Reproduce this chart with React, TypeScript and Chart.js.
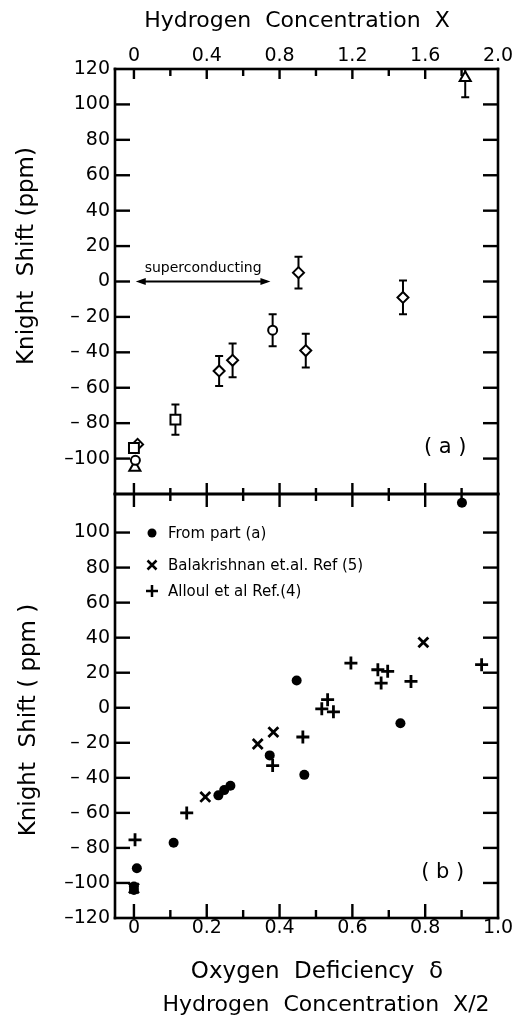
import React, { useEffect, useRef } from "react";
import { Chart, registerables } from "chart.js";
Chart.register(...registerables);

const FONT = '"DejaVu Sans", "Liberation Sans", sans-serif';

// ---------- Panel (a): x = Hydrogen concentration X, y = Knight shift (ppm), err = half error bar
const diamondX = [0.02, 0.468, 0.542, 0.904, 0.944, 1.478];
const diamondY = [-92, -50.5, -44.5, 5, -39, -9];
const diamondErr = [0, 8.5, 9.5, 9, 9.5, 9.5];
const squareX = [0.0, 0.228];
const squareY = [-94, -78];
const squareErr = [0, 8.5];
const circleX = [0.008, 0.762];
const circleY = [-101, -27.5];
const circleErr = [0, 9];
const triangleX = [0.005, 1.82];
const triangleY = [-105, 115];
const triangleErr = [0, 11];
const superconductingRange = [0.01, 0.75];

// ---------- Panel (b): x = oxygen deficiency δ (= X/2)
const partAX = [0.901, 0.447, 0.732, 0.373, 0.468, 0.265, 0.248, 0.232, 0.109, 0.008, 0.0, 0.0];
const partAY = [117, 15.6, -8.8, -27.2, -38.3, -44.5, -47, -50, -77, -91.6, -102, -104];
const balaX = [0.795, 0.383, 0.34, 0.196, 0.0];
const balaY = [37.3, -13.9, -20.7, -50.9, -103];
const allX = [0.596, 0.955, 0.67, 0.697, 0.679, 0.761, 0.464, 0.381, 0.145, 0.532, 0.516, 0.548, 0.003];
const allY = [25.5, 24.6, 21.7, 20.8, 14.1, 15, -16.7, -33, -60, 4.6, -0.6, -2.3, -75.4];

// ---------- ticks
const topXTicks = [0, 0.2, 0.4, 0.6, 0.8, 1.0, 1.2, 1.4, 1.6, 1.8, 2.0];
const topXLabels = ["0", "", "0.4", "", "0.8", "", "1.2", "", "1.6", "", "2.0"];
const botXTicks = [0, 0.1, 0.2, 0.3, 0.4, 0.5, 0.6, 0.7, 0.8, 0.9, 1.0];
const botXLabels = ["0", "", "0.2", "", "0.4", "", "0.6", "", "0.8", "", "1.0"];
const yTicks = [-120, -100, -80, -60, -40, -20, 0, 20, 40, 60, 80, 100, 120];
const yLabelsA = ["", "–100", "– 80", "– 60", "– 40", "– 20", "0", "20", "40", "60", "80", "100", "120"];
const yLabelsB = ["–120", "–100", "– 80", "– 60", "– 40", "– 20", "0", "20", "40", "60", "80", "100", ""];

const X_MIN_A = -0.104, X_MAX_A = 2.0;
const X_MIN_B = -0.052, X_MAX_B = 1.0;
const Y_MIN_A = -120, Y_MAX_A = 120;
const Y_MIN_B = -120, Y_MAX_B = 122;

const tickFont = { family: FONT, size: 19, lineHeight: 1 };

function labelCb(ticks: number[], labels: string[]) {
  return (v: any) => {
    const i = ticks.findIndex((t) => Math.abs(t - Number(v)) < 1e-6);
    return i >= 0 ? labels[i] : "";
  };
}

function mkX(pos: string, min: number, max: number, ticks: number[], labels: string[], h: number, pad: number) {
  return {
    type: "linear",
    position: pos,
    min,
    max,
    afterBuildTicks: (s: any) => {
      s.ticks = ticks.map((v) => ({ value: v }));
    },
    afterFit: (s: any) => {
      s.height = h;
      s.paddingLeft = 0;
      s.paddingRight = 0;
    },
    grid: { display: false, drawTicks: false },
    border: { display: false },
    ticks: { autoSkip: false, maxRotation: 0, minRotation: 0, color: "#000", padding: pad, font: tickFont, callback: labelCb(ticks, labels) },
  };
}

function mkY(min: number, max: number, labels: string[]) {
  return {
    type: "linear",
    position: "left",
    min,
    max,
    afterBuildTicks: (s: any) => {
      s.ticks = yTicks.map((v) => ({ value: v }));
    },
    afterFit: (s: any) => {
      s.width = 115;
      s.paddingTop = 0;
      s.paddingBottom = 0;
    },
    grid: { display: false, drawTicks: false },
    border: { display: false },
    ticks: { autoSkip: false, color: "#000", padding: 5, font: tickFont, callback: labelCb(yTicks, labels) },
  };
}

function pts(xs: number[], ys: number[]) {
  return xs.map((x, i) => ({ x, y: ys[i] }));
}

type Seg = [number, number, number, number];

function strokeSegs(ctx: CanvasRenderingContext2D, segs: Seg[], w: number) {
  ctx.save();
  ctx.strokeStyle = "#000000";
  ctx.lineWidth = w;
  ctx.lineCap = "butt";
  ctx.setLineDash([]);
  ctx.beginPath();
  for (const [x1, y1, x2, y2] of segs) {
    ctx.moveTo(x1, y1);
    ctx.lineTo(x2, y2);
  }
  ctx.stroke();
  ctx.restore();
}

type R = [number, number, number, number];

function fillRects(ctx: CanvasRenderingContext2D, rs: R[]) {
  ctx.save();
  ctx.fillStyle = "#000000";
  for (const [x, y, w, h] of rs) ctx.fillRect(x, y, w, h);
  ctx.restore();
}

function sideTickRects(chart: any): R[] {
  const a = chart.chartArea;
  const y = chart.scales.y;
  const rs: R[] = [];
  const t = 2.4;
  for (const v of yTicks) {
    if (v <= -120 || v >= 120) continue;
    const py = y.getPixelForValue(v);
    rs.push([a.left, py - t / 2, 15, t]);
    rs.push([a.right - 15, py - t / 2, 15, t]);
  }
  return rs;
}

function hTickRects(chart: any, ticks: number[], edgeY: number, dir: number, majorLen: number, minorLen: number): R[] {
  const a = chart.chartArea;
  const sx = chart.scales.x;
  const rs: R[] = [];
  const t = 2.4;
  ticks.forEach((v, i) => {
    const px = sx.getPixelForValue(v);
    if (px >= a.right - 1) return;
    const len = i % 2 === 0 ? majorLen : minorLen;
    rs.push([px - t / 2, dir > 0 ? edgeY : edgeY - len, t, len]);
  });
  return rs;
}

function frame(chart: any) {
  const a = chart.chartArea;
  const t = 2.6;
  fillRects(chart.ctx, [
    [a.left - t / 2, a.top - t / 2, a.right - a.left + t, t],
    [a.left - t / 2, a.bottom - t / 2, a.right - a.left + t, t],
    [a.left - t / 2, a.top - t / 2, t, a.bottom - a.top + t],
    [a.right - t / 2, a.top - t / 2, t, a.bottom - a.top + t],
  ]);
}

function drawText(ctx: CanvasRenderingContext2D, text: string, x: number, y: number, size: number, rot = 0, align: CanvasTextAlign = "center") {
  ctx.save();
  ctx.fillStyle = "#000";
  ctx.font = `${size}px ${FONT}`;
  ctx.textAlign = align;
  ctx.textBaseline = "middle";
  ctx.translate(x, y);
  if (rot) ctx.rotate(rot);
  ctx.fillText(text, 0, 0);
  ctx.restore();
}

const errSeries: [number[], number[], number[]][] = [
  [diamondX, diamondY, diamondErr],
  [squareX, squareY, squareErr],
  [circleX, circleY, circleErr],
  [triangleX, triangleY, triangleErr],
];

const decorA = {
  id: "decorA",
  beforeDatasetsDraw(chart: any) {
    const { ctx, chartArea: a, scales } = chart;
    const { x, y } = scales;
    ctx.save();
    ctx.beginPath();
    ctx.rect(a.left, a.top, a.right - a.left, a.bottom - a.top);
    ctx.clip();
    const segs: Seg[] = [];
    for (const [xs, ys, es] of errSeries) {
      xs.forEach((xv, i) => {
        const e = es[i];
        if (!e) return;
        const px = x.getPixelForValue(xv);
        const p1 = y.getPixelForValue(ys[i] + e);
        const p2 = y.getPixelForValue(ys[i] - e);
        segs.push([px, p1, px, p2]);
        segs.push([px - 4, p1, px + 4, p1]);
        segs.push([px - 4, p2, px + 4, p2]);
      });
    }
    strokeSegs(ctx, segs, 2);
    const x1 = x.getPixelForValue(superconductingRange[0]);
    const x2 = x.getPixelForValue(superconductingRange[1]);
    const py = y.getPixelForValue(0);
    strokeSegs(ctx, [[x1 + 4, py, x2 - 4, py]], 2);
    ctx.fillStyle = "#000";
    ctx.beginPath();
    ctx.moveTo(x1, py);
    ctx.lineTo(x1 + 10, py - 3.5);
    ctx.lineTo(x1 + 10, py + 3.5);
    ctx.closePath();
    ctx.fill();
    ctx.beginPath();
    ctx.moveTo(x2, py);
    ctx.lineTo(x2 - 10, py - 3.5);
    ctx.lineTo(x2 - 10, py + 3.5);
    ctx.closePath();
    ctx.fill();
    ctx.restore();
    drawText(ctx, "superconducting", (x1 + x2) / 2, py - 13, 14);
  },
  afterDraw(chart: any) {
    const { ctx, chartArea: a, scales } = chart;
    fillRects(ctx, [
      ...sideTickRects(chart),
      ...hTickRects(chart, topXTicks, a.top, 1, 10, 7),
      ...hTickRects(chart, topXTicks, a.bottom, -1, 11, 6),
    ]);
    frame(chart);
    drawText(ctx, "( a )", scales.x.getPixelForValue(1.71), scales.y.getPixelForValue(-94), 21);
    drawText(ctx, "Hydrogen  Concentration  X", 297, 21, 22);
    drawText(ctx, "Knight  Shift (ppm)", 27, 256, 23, -Math.PI / 2);
  },
};

function legendMarker(ctx: CanvasRenderingContext2D, kind: string, x: number, y: number) {
  if (kind === "circle") {
    ctx.save();
    ctx.fillStyle = "#000";
    ctx.beginPath();
    ctx.arc(x, y, 4.5, 0, Math.PI * 2);
    ctx.fill();
    ctx.restore();
  } else if (kind === "cross") {
    strokeSegs(ctx, [[x - 4.5, y - 4.5, x + 4.5, y + 4.5], [x - 4.5, y + 4.5, x + 4.5, y - 4.5]], 2.5);
  } else {
    strokeSegs(ctx, [[x - 6, y, x + 6, y], [x, y - 6, x, y + 6]], 2.5);
  }
}

const decorB = {
  id: "decorB",
  afterDraw(chart: any) {
    const { ctx, chartArea: a, scales } = chart;
    fillRects(ctx, [
      ...sideTickRects(chart),
      ...hTickRects(chart, botXTicks, a.top, 1, 13, 7),
      ...hTickRects(chart, botXTicks, a.bottom, -1, 14, 8),
    ]);
    frame(chart);
    const lx = a.left + 37;
    const items: [string, string, number][] = [
      ["circle", "From part (a)", 39],
      ["cross", "Balakrishnan et.al. Ref (5)", 71],
      ["plus", "Alloul et al Ref.(4)", 97],
    ];
    for (const [k, t, dy] of items) {
      legendMarker(ctx, k, lx, a.top + dy);
      drawText(ctx, t, lx + 16, a.top + dy + 1, 15, 0, "left");
    }
    drawText(ctx, "( b )", scales.x.getPixelForValue(0.848), scales.y.getPixelForValue(-94.3), 21);
    drawText(ctx, "Knight  Shift ( ppm )", 29, 240, 23, -Math.PI / 2);
    drawText(ctx, "Oxygen  Deficiency  δ", 317, 492, 23);
    drawText(ctx, "Hydrogen  Concentration  X/2", 326, 525, 22);
  },
};

function useChart(ref: React.RefObject<HTMLCanvasElement | null>, cfg: () => any) {
  useEffect(() => {
    if (!ref.current) return;
    const c = new Chart(ref.current, cfg());
    return () => c.destroy();
  }, []);
}

const openPt = (xs: number[], ys: number[], style: string, r: number) => ({
  type: "scatter",
  data: pts(xs, ys),
  pointStyle: style,
  pointRadius: r,
  pointBorderWidth: 2,
  pointBorderColor: "#000",
  pointBackgroundColor: "#fff",
  showLine: false,
});

export default function App() {
  const refA = useRef<HTMLCanvasElement>(null);
  const refB = useRef<HTMLCanvasElement>(null);

  useChart(refA, () => ({
    type: "scatter",
    data: {
      datasets: [
        openPt(squareX, squareY, "rect", 7),
        openPt(circleX, circleY, "circle", 4.5),
        openPt(triangleX, triangleY, "triangle", 6.4),
        openPt(diamondX, diamondY, "rectRot", 5.5),
      ],
    },
    options: {
      responsive: false,
      animation: false,
      devicePixelRatio: 1,
      layout: { padding: { left: 0, right: 15, top: 0, bottom: 16 } },
      plugins: { legend: { display: false }, tooltip: { enabled: false } },
      scales: {
        x: mkX("top", X_MIN_A, X_MAX_A, topXTicks, topXLabels, 69, 3),
        y: mkY(Y_MIN_A, Y_MAX_A, yLabelsA),
      },
    },
    plugins: [decorA],
  }));

  useChart(refB, () => ({
    type: "scatter",
    data: {
      datasets: [
        {
          type: "scatter",
          data: pts(partAX, partAY),
          pointStyle: "circle",
          pointRadius: 5,
          pointBorderWidth: 0,
          pointBackgroundColor: "#000",
          pointBorderColor: "#000",
        },
        {
          type: "scatter",
          data: pts(balaX, balaY),
          pointStyle: "crossRot",
          pointRadius: 7,
          pointBorderWidth: 2.8,
          pointBorderColor: "#000",
        },
        {
          type: "scatter",
          data: pts(allX, allY),
          pointStyle: "cross",
          pointRadius: 6.5,
          pointBorderWidth: 2.8,
          pointBorderColor: "#000",
        },
      ],
    },
    options: {
      responsive: false,
      animation: false,
      devicePixelRatio: 1,
      layout: { padding: { left: 0, right: 15, top: 14, bottom: 0 } },
      plugins: { legend: { display: false }, tooltip: { enabled: false } },
      scales: {
        x: mkX("bottom", X_MIN_B, X_MAX_B, botXTicks, botXLabels, 100, 1),
        y: mkY(Y_MIN_B, Y_MAX_B, yLabelsB),
      },
    },
    plugins: [decorB],
  }));

  return (
    <div style={{ position: "absolute", left: 0, top: 0, width: 513, height: 1018, background: "#fff", overflow: "hidden" }}>
      <canvas ref={refA} width={513} height={510} style={{ position: "absolute", left: 0, top: 0, width: 513, height: 510 }} />
      <canvas ref={refB} width={513} height={538} style={{ position: "absolute", left: 0, top: 480, width: 513, height: 538 }} />
    </div>
  );
}
